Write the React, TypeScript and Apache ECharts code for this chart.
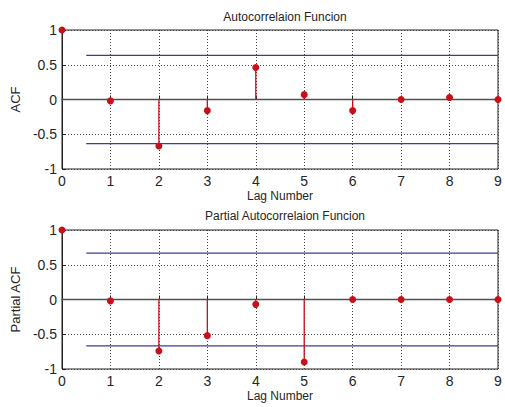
import React, { useEffect, useRef } from "react";
import * as echarts from "echarts";

const lags = [0, 1, 2, 3, 4, 5, 6, 7, 8, 9];
const acfValues = [1, -0.02, -0.67, -0.16, 0.46, 0.07, -0.16, 0.0, 0.03, 0.0];
const pacfValues = [1, -0.02, -0.74, -0.52, -0.07, -0.9, 0.0, 0.0, 0.0, 0.0];
const acfBound = 0.635;
const pacfBound = 0.668;
const boundStart = 0.5;
const boundEnd = 9;
const yTicks = [-1, -0.5, 0, 0.5, 1];
const titles = ["Autocorrelaion Funcion", "Partial Autocorrelaion Funcion"];
const yNames = ["ACF", "Partial ACF"];
const xName = "Lag Number";

const RED = "#c8101a";
const BLUE = "#3c3c9c";
const TEXT = "#262626";
const FONT = "Liberation Sans, Arial, sans-serif";

export default function App() {
  const ref = useRef<HTMLDivElement>(null);
  useEffect(() => {
    if (!ref.current) return;
    const chart = echarts.init(ref.current, undefined, { renderer: "svg" });
    const tops = [30, 230];
    const grids = tops.map((t) => ({
      left: 62,
      top: t,
      width: 436,
      height: 139,
      show: true,
      borderColor: "#222",
      borderWidth: 1,
      backgroundColor: "#fff",
    }));
    const xAxes = [0, 1].map((i) => ({
      type: "value",
      gridIndex: i,
      min: 0,
      max: 9,
      interval: 1,
      name: xName,
      nameLocation: "middle",
      nameGap: 21,
      nameTextStyle: { color: TEXT, fontSize: 12, fontFamily: FONT },
      axisLine: { show: true, lineStyle: { color: "#222" } },
      axisTick: { show: true, inside: true, length: 4, lineStyle: { color: "#222" } },
      axisLabel: { color: TEXT, fontSize: 14, fontFamily: FONT, margin: 5 },
      splitLine: { show: true, lineStyle: { color: "#444", type: [1, 2], width: 1 } },
    }));
    const yAxes = [0, 1].map((i) => ({
      type: "value",
      gridIndex: i,
      min: yTicks[0],
      max: yTicks[yTicks.length - 1],
      interval: 0.5,
      name: yNames[i],
      nameLocation: "middle",
      nameGap: 34,
      nameTextStyle: { color: TEXT, fontSize: 13, fontFamily: FONT },
      axisLine: { show: true, lineStyle: { color: "#222" } },
      axisTick: { show: true, inside: true, length: 4, lineStyle: { color: "#222" } },
      axisLabel: { color: TEXT, fontSize: 14, fontFamily: FONT, margin: 5 },
      splitLine: { show: true, lineStyle: { color: "#444", type: [1, 2], width: 1 } },
    }));
    const series: any[] = [];
    [acfValues, pacfValues].forEach((vals, i) => {
      const bound = i === 0 ? acfBound : pacfBound;
      series.push({
        type: "line",
        xAxisIndex: i,
        yAxisIndex: i,
        data: [[0, 0], [9, 0]],
        symbol: "none",
        lineStyle: { color: "#505050", width: 1.5 },
        z: 3,
      });
      [bound, -bound].forEach((b) => {
        series.push({
          type: "line",
          xAxisIndex: i,
          yAxisIndex: i,
          data: [[boundStart, b], [boundEnd, b]],
          symbol: "none",
          lineStyle: { color: BLUE, width: 1.2 },
          z: 3,
        });
      });
      series.push({
        type: "custom",
        xAxisIndex: i,
        yAxisIndex: i,
        data: lags.filter((l) => l > 0).map((l) => [l, vals[lags.indexOf(l)]]),
        clip: false,
        z: 4,
        renderItem: (params: any, api: any) => {
          const p0 = api.coord([api.value(0), 0]);
          const p1 = api.coord([api.value(0), api.value(1)]);
          return {
            type: "line",
            shape: { x1: p0[0], y1: p0[1], x2: p1[0], y2: p1[1] },
            style: { stroke: RED, lineWidth: 1.3 },
          };
        },
      });
      series.push({
        type: "scatter",
        xAxisIndex: i,
        yAxisIndex: i,
        data: lags.map((l, k) => [l, vals[k]]),
        symbol: "circle",
        symbolSize: 7,
        clip: false,
        itemStyle: { color: RED, opacity: 1 },
        z: 5,
      });
    });
    chart.setOption({
      animation: false,
      backgroundColor: "#fff",
      title: titles.map((t, i) => ({
        text: t,
        left: 280,
        textAlign: "center",
        top: i === 0 ? 6 : 205,
        textStyle: { color: TEXT, fontSize: 12, fontWeight: "normal", fontFamily: FONT },
      })),
      grid: grids,
      xAxis: xAxes,
      yAxis: yAxes,
      series,
    });
    return () => chart.dispose();
  }, []);
  return <div ref={ref} style={{ width: 505, height: 407, position: "absolute", left: 0, top: 0 }} />;
}
